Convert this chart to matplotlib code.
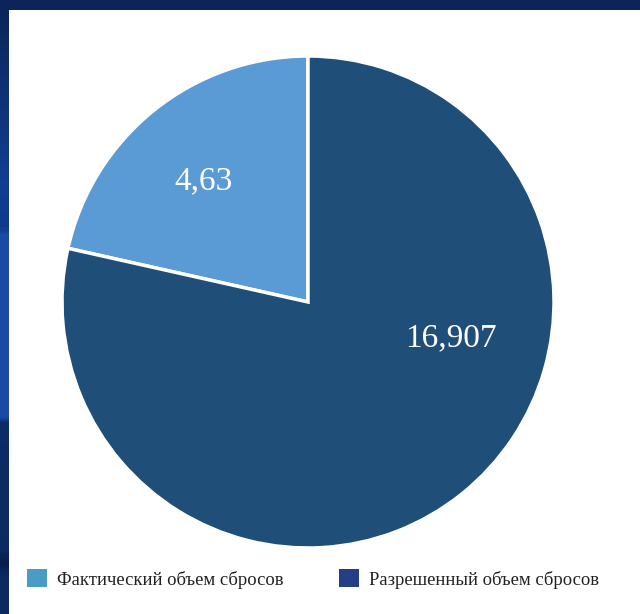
import numpy as np
import matplotlib
matplotlib.use('Agg')
import matplotlib.pyplot as plt
from matplotlib.patches import Patch, Rectangle
from matplotlib.colors import LinearSegmentedColormap

# discharge volumes
labels = ['Фактический объем сбросов', 'Разрешенный объем сбросов']
values = [4.63, 16.907]
pie_colors = ['#5b9bd5', '#1f4e79']
legend_colors = ['#4a9bc5', '#243f86']

plt.rcParams['font.family'] = ['Liberation Serif', 'DejaVu Serif']

W, H = 640, 614
fig = plt.figure(figsize=(W / 100, H / 100), dpi=100)
fig.patch.set_facecolor('white')

# dark frame: top strip and the shaded left strip
fig.patches.append(Rectangle((0, 1 - 10 / H), 1, 10 / H, transform=fig.transFigure,
                             facecolor='#0c2459', edgecolor='none', zorder=0))
band = fig.add_axes([0, 0, 9 / W, 1])
band_cmap = LinearSegmentedColormap.from_list('band', [
    (0.0, '#0b2457'), (0.30, '#123e94'), (0.37, '#0f3a8c'), (0.38, '#1a4ba3'),
    (0.68, '#1a4ba3'), (0.69, '#0c2c68'), (0.90, '#0c2a62'), (0.92, '#081c48'),
    (0.94, '#0c2a62'), (1.0, '#0c2a62')])
band.imshow(np.linspace(0, 1, 300).reshape(-1, 1), aspect='auto', cmap=band_cmap)
band.axis('off')

# pie: centre at (308, 302) px, radius 246 px
R = 246
cx, cy = 308, 302
ax = fig.add_axes([(cx - R) / W, (H - cy - R) / H, 2 * R / W, 2 * R / H])
ax.pie(values, colors=pie_colors, startangle=90, counterclock=True, radius=1,
       wedgeprops=dict(edgecolor='white', linewidth=2.5))
ax.set_xlim(-1, 1)
ax.set_ylim(-1, 1)
ax.set_aspect('auto')
ax.axis('off')

label_pos = [(-0.423, 0.459), (0.581, -0.179)]
for v, (x, y) in zip(values, label_pos):
    ax.text(x, y, str(v).replace('.', ','), color='white', fontsize=24,
            ha='center', va='baseline')

handles = [Patch(facecolor=c, edgecolor='none', label=l)
           for c, l in zip(legend_colors, labels)]
fig.legend(handles=handles, loc='center left', ncol=2, frameon=False,
           bbox_to_anchor=(27 / W, 1 - 579 / H), fontsize=13.4,
           handlelength=1.075, handleheight=1.075, handletextpad=0.55,
           columnspacing=2.95, borderpad=0, borderaxespad=0,
           labelcolor='#222222')

fig.savefig('out.png', dpi=100, facecolor='white')
